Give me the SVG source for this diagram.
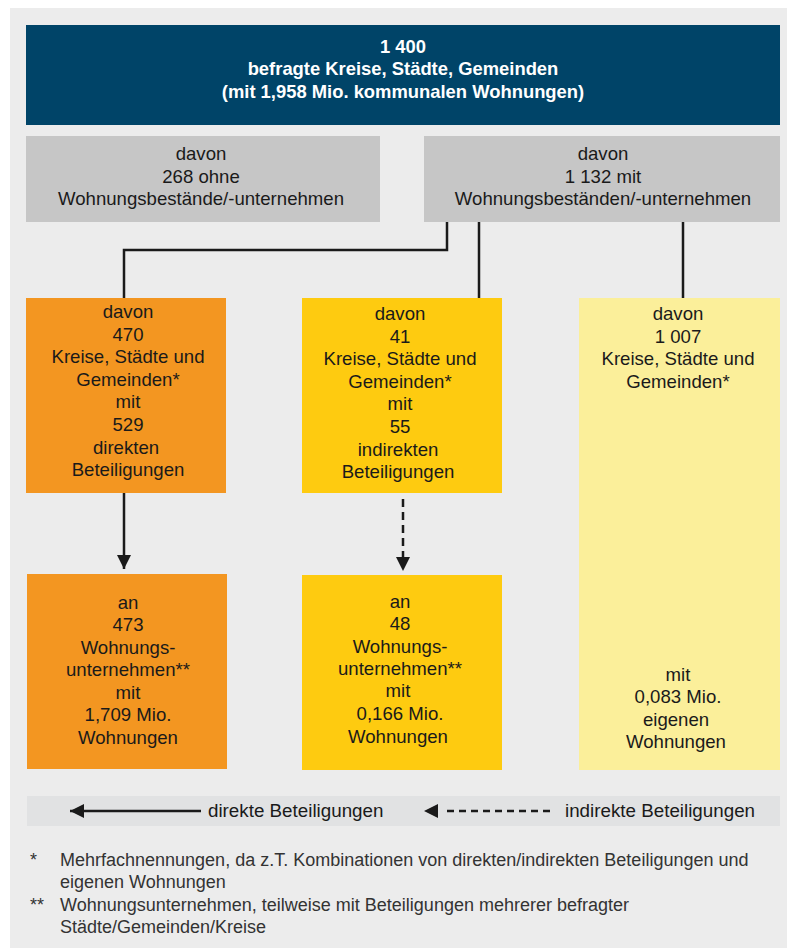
<svg xmlns="http://www.w3.org/2000/svg" width="787" height="948" viewBox="0 0 787 948">
<defs>
<style>
text{font-family:"Liberation Sans",Arial,sans-serif;font-size:18.6px;fill:#1a1a1a;text-anchor:middle}
.t{fill:#fff;font-weight:bold;font-size:18.4px}
.fn{text-anchor:start;fill:#333;font-size:18px}
.lg{text-anchor:start;font-size:18.8px}
.ln{stroke:#1a1a1a;stroke-width:2.5;fill:none}
</style>
<marker id="ah" viewBox="0 0 14 14" refX="14" refY="7" markerWidth="14" markerHeight="14" markerUnits="userSpaceOnUse" orient="auto"><path d="M0,0L14,7L0,14z" fill="#1a1a1a"/></marker>
<marker id="ahb" viewBox="0 0 14 14" refX="0" refY="7" markerWidth="14" markerHeight="14" markerUnits="userSpaceOnUse" orient="auto"><path d="M0,0L14,7L0,14z" fill="#1a1a1a"/></marker>
<marker id="ahd" viewBox="0 0 22 14" refX="0" refY="7" markerWidth="22" markerHeight="14" markerUnits="userSpaceOnUse" orient="auto"><path d="M8,0L22,7L8,14z" fill="#1a1a1a"/></marker>
</defs>
<rect x="10" y="8" width="777" height="940" fill="#ececec"/>
<g id="top">
<rect x="26" y="25" width="754" height="100" fill="#004468"/>
<text class="t" x="403" y="53">1 400</text>
<text class="t" x="403" y="75">befragte Kreise, Städte, Gemeinden</text>
<text class="t" x="403" y="98">(mit 1,958 Mio. kommunalen Wohnungen)</text>
</g>
<g id="ohne">
<rect x="26" y="136" width="354" height="86" fill="#c6c6c6"/>
<text x="201" y="160">davon</text>
<text x="201" y="183">268 ohne</text>
<text x="201" y="205">Wohnungsbestände/-unternehmen</text>
</g>
<g id="mit">
<rect x="424" y="136" width="356" height="86" fill="#c6c6c6"/>
<text x="603" y="160">davon</text>
<text x="603" y="183">1 132 mit</text>
<text x="603" y="205">Wohnungsbeständen/-unternehmen</text>
</g>
<g id="direkt">
<rect x="26" y="298" width="200" height="195" fill="#f39621"/>
<text x="128" y="318">davon</text>
<text x="128" y="341">470</text>
<text x="128" y="363">Kreise, Städte und</text>
<text x="128" y="386">Gemeinden*</text>
<text x="128" y="408">mit</text>
<text x="128" y="431">529</text>
<text x="126" y="454">direkten</text>
<text x="128" y="476">Beteiligungen</text>
</g>
<g id="indirekt">
<rect x="302" y="298" width="200" height="195" fill="#fecb10"/>
<text x="400" y="320">davon</text>
<text x="400" y="343">41</text>
<text x="400" y="365">Kreise, Städte und</text>
<text x="400" y="388">Gemeinden*</text>
<text x="400" y="410">mit</text>
<text x="400" y="433">55</text>
<text x="398" y="456">indirekten</text>
<text x="398" y="478">Beteiligungen</text>
</g>
<g id="eigen">
<rect x="579" y="298" width="201" height="472" fill="#fbef9a"/>
<text x="678" y="320">davon</text>
<text x="678" y="343">1 007</text>
<text x="678" y="365">Kreise, Städte und</text>
<text x="678" y="388">Gemeinden*</text>
<text x="678" y="681">mit</text>
<text x="678" y="703">0,083 Mio.</text>
<text x="676" y="726">eigenen</text>
<text x="676" y="748">Wohnungen</text>
</g>
<g id="direkt-wu">
<rect x="27" y="574" width="200" height="195" fill="#f39621"/>
<text x="128" y="609">an</text>
<text x="128" y="631">473</text>
<text x="128" y="654">Wohnungs-</text>
<text x="128" y="676">unternehmen**</text>
<text x="128" y="699">mit</text>
<text x="128" y="721">1,709 Mio.</text>
<text x="128" y="744">Wohnungen</text>
</g>
<g id="indirekt-wu">
<rect x="302" y="575" width="200" height="195" fill="#fecb10"/>
<text x="400" y="608">an</text>
<text x="400" y="630">48</text>
<text x="400" y="653">Wohnungs-</text>
<text x="400" y="675">unternehmen**</text>
<text x="398" y="697">mit</text>
<text x="400" y="720">0,166 Mio.</text>
<text x="398" y="743">Wohnungen</text>
</g>
<g id="connectors">
<path class="ln" d="M447,222V250H124V298"/>
<path class="ln" d="M479,222V298"/>
<path class="ln" d="M683,222V298"/>
<path class="ln" d="M124,493V569" marker-end="url(#ah)"/>
<path class="ln" d="M403,499V557" stroke-dasharray="8,5" marker-end="url(#ahb)"/>
</g>
<g id="legend">
<rect x="27" y="796" width="753" height="30" fill="#e1e2e3"/>
<path class="ln" d="M201,811H70" stroke-width="3" marker-end="url(#ah)"/>
<text class="lg" x="208" y="817">direkte Beteiligungen</text>
<path class="ln" d="M550,811H446" stroke-width="3" stroke-dasharray="7,5" marker-end="url(#ahd)"/>
<text class="lg" x="565" y="817">indirekte Beteiligungen</text>
</g>
<g id="footnotes">
<text class="fn" x="30" y="866">*</text>
<text class="fn" x="60" y="866">Mehrfachnennungen, da z.T. Kombinationen von direkten/indirekten Beteiligungen und</text>
<text class="fn" x="60" y="888">eigenen Wohnungen</text>
<text class="fn" x="30" y="911">**</text>
<text class="fn" x="60" y="911">Wohnungsunternehmen, teilweise mit Beteiligungen mehrerer befragter</text>
<text class="fn" x="60" y="933">Städte/Gemeinden/Kreise</text>
</g>
</svg>
